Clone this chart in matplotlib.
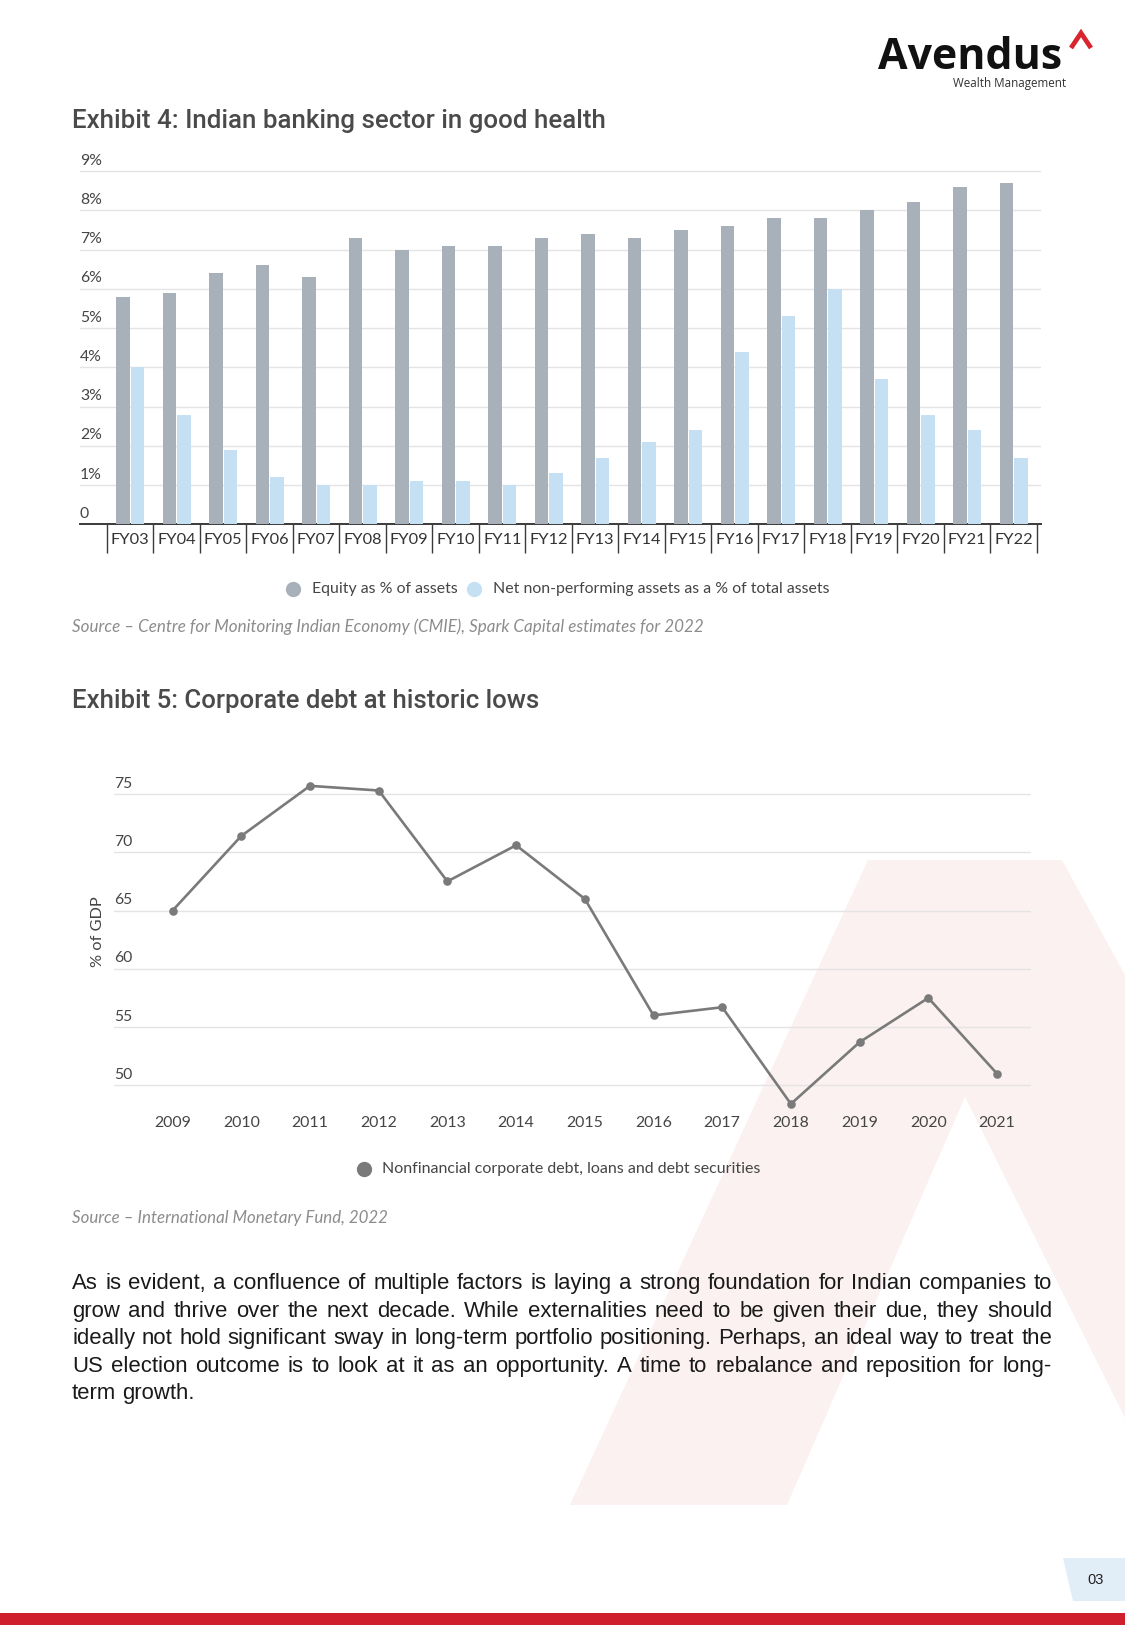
import matplotlib
matplotlib.use("Agg")
import matplotlib.pyplot as plt
import numpy as np
from matplotlib.patches import Polygon
from matplotlib.lines import Line2D
from matplotlib.figure import Figure
from matplotlib.backends.backend_agg import FigureCanvasAgg

# ---------------- data ----------------
categories = ["FY03", "FY04", "FY05", "FY06", "FY07", "FY08", "FY09", "FY10", "FY11", "FY12",
              "FY13", "FY14", "FY15", "FY16", "FY17", "FY18", "FY19", "FY20", "FY21", "FY22"]
equity = [5.8, 5.9, 6.4, 6.6, 6.3, 7.3, 7.0, 7.1, 7.1, 7.3,
          7.4, 7.3, 7.5, 7.6, 7.8, 7.8, 8.0, 8.2, 8.6, 8.7]
npa = [4.0, 2.8, 1.9, 1.2, 1.0, 1.0, 1.1, 1.1, 1.0, 1.3,
       1.7, 2.1, 2.4, 4.4, 5.3, 6.0, 3.7, 2.8, 2.4, 1.7]
bar_yticks = [0, 1, 2, 3, 4, 5, 6, 7, 8, 9]
bar_yticklabels = ["0", "1%", "2%", "3%", "4%", "5%", "6%", "7%", "8%", "9%"]
bar_legend = ["Equity as % of assets", "Net non-performing assets as a % of total assets"]

years = [2009, 2010, 2011, 2012, 2013, 2014, 2015, 2016, 2017, 2018, 2019, 2020, 2021]
debt = [65.0, 71.4, 75.7, 75.3, 67.5, 70.6, 66.0, 56.0, 56.7, 48.4, 53.7, 57.5, 51.0]
line_yticks = [50, 55, 60, 65, 70, 75]
line_legend = "Nonfinancial corporate debt, loans and debt securities"

title4 = "Exhibit 4: Indian banking sector in good health"
title5 = "Exhibit 5: Corporate debt at historic lows"
source4 = "Source \u2013 Centre for Monitoring Indian Economy (CMIE), Spark Capital estimates for 2022"
source5 = "Source \u2013 International Monetary Fund, 2022"
para_lines = [
    "As is evident, a confluence of multiple factors is laying a strong foundation for Indian companies to",
    "grow and thrive over the next decade. While externalities need to be given their due, they should",
    "ideally not hold significant sway in long-term portfolio positioning. Perhaps, an ideal way to treat the",
    "US election outcome is to look at it as an opportunity. A time to rebalance and reposition for long-",
    "term growth.",
]

# ---------------- style ----------------
C_EQ = "#a8b1ba"
C_NPA = "#c5dff3"
C_LINE = "#7a7a7a"
C_GRID = "#e4e4e4"
C_TXT = "#454545"
C_PINK = "#fbf1f1"
CHART_FONT = ["Lato", "DejaVu Sans"]
TITLE_FONT = ["Roboto", "DejaVu Sans"]
BODY_FONT = ["Liberation Sans", "DejaVu Sans"]

W, H = 1125, 1625
fig = plt.figure(figsize=(W / 100, H / 100), dpi=100)
fig.patch.set_facecolor("white")


def fx(x):
    return x / W


def fy(y):
    return 1 - y / H


renderer = fig.canvas.get_renderer()


def width_of(t):
    return t.get_window_extent(renderer).width


def fit(t, target_w):
    t.set_fontsize(t.get_fontsize() * target_w / width_of(t))
    return t


# ---------------- background decorations ----------------
wm = Polygon([(fx(570), fy(1505)), (fx(868), fy(860)), (fx(1062), fy(860)), (fx(1125), fy(975)),
              (fx(1125), fy(1418)), (fx(965), fy(1097)), (fx(787), fy(1505))],
             closed=True, transform=fig.transFigure, facecolor=C_PINK, edgecolor="none", zorder=-1)
fig.patches.append(wm)

fig.patches.append(Polygon([(0, fy(1613)), (1, fy(1613)), (1, 0), (0, 0)], closed=True,
                           transform=fig.transFigure, facecolor="#cf1f2d", edgecolor="none", zorder=1))
fig.patches.append(Polygon([(fx(1063), fy(1558)), (1, fy(1558)), (1, fy(1601)), (fx(1073), fy(1601))],
                           closed=True, transform=fig.transFigure, facecolor="#e1edf7",
                           edgecolor="none", zorder=1))
fig.text(fx(1096), fy(1580), "03", ha="center", va="center", fontsize=10.5,
         family=BODY_FONT, color="#222222")

# logo
t = fig.text(fx(878), fy(69), "Avendus", ha="left", va="baseline", fontweight="bold",
             family=["Open Sans", "DejaVu Sans"], color="#111111", fontsize=30)
fit(t, 184)
fig.lines.append(Line2D([fx(1071), fx(1081), fx(1091)], [fy(48), fy(33), fy(48)],
                        transform=fig.transFigure, color="#d7262e", lw=3.4,
                        solid_joinstyle="miter", solid_capstyle="butt"))
t = fig.text(fx(953), fy(83), "Wealth Management", ha="left", va="center",
             family=["Open Sans", "DejaVu Sans"], color="#333333", fontsize=8)
fit(t, 114)

# ---------------- titles & sources ----------------
t = fig.text(fx(72), fy(121), title4, ha="left", va="center", family=TITLE_FONT,
             fontweight="medium", color="#4a4a4a", fontsize=17)
fit(t, 533)
t = fig.text(fx(72), fy(701), title5, ha="left", va="center", family=TITLE_FONT,
             fontweight="medium", color="#4a4a4a", fontsize=17)
fit(t, 468)
t = fig.text(fx(72), fy(627), source4, ha="left", va="center", family=CHART_FONT,
             style="italic", color="#8c8c8c", fontsize=11)
fit(t, 629)
t = fig.text(fx(72), fy(1218), source5, ha="left", va="center", family=CHART_FONT,
             style="italic", color="#8c8c8c", fontsize=11)
fit(t, 316)

# ---------------- Exhibit 4: bar chart ----------------
px_per_unit = (524.5 - 171.0) / 9.0
ytop = 9.2
ax_top_px = 524.5 - ytop * px_per_unit
ax1 = fig.add_axes([fx(80), fy(524.5), (1041 - 80) / W, (524.5 - ax_top_px) / H])
ax1.set_facecolor("none")
ax1.set_xlim(-1.08, 19.586)
ax1.set_ylim(0, ytop)
x = np.arange(len(categories))
bw = 0.29
ax1.bar(x - 0.16, equity, width=bw, color=C_EQ, zorder=3)
ax1.bar(x + 0.16, npa, width=bw, color=C_NPA, zorder=3)
for v in bar_yticks[1:]:
    ax1.axhline(v, color=C_GRID, lw=1.0, zorder=1)
for v, lab in zip(bar_yticks, bar_yticklabels):
    ax1.annotate(lab, xy=(0, v), xycoords=("axes fraction", "data"), xytext=(0, 2.5),
                 textcoords="offset points", ha="left", va="bottom", fontsize=11.3,
                 family=CHART_FONT, color=C_TXT)
for s in ["top", "right", "left"]:
    ax1.spines[s].set_visible(False)
ax1.spines["bottom"].set_color("#3a3a3a")
ax1.spines["bottom"].set_linewidth(1.4)
ax1.set_xticks([])
ax1.set_yticks([])
sep_depth = (553 - 524.5) / px_per_unit
ax1.vlines(np.arange(len(categories) + 1) - 0.5, -sep_depth, 0, colors="#3a3a3a",
           lw=1.0, clip_on=False)
for i, lab in enumerate(categories):
    ax1.annotate(lab, xy=(i, 0), xycoords="data", xytext=(0, -15.5 * 0.72),
                 textcoords="offset points", ha="center", va="center", fontsize=11.8,
                 family=CHART_FONT, color="#333333", annotation_clip=False)

for (cx, tx, tw, col, lab) in [(293, 312, 145, C_EQ, bar_legend[0]),
                               (474.5, 493, 335, C_NPA, bar_legend[1])]:
    fig.lines.append(Line2D([fx(cx)], [fy(589)], transform=fig.transFigure, marker="o",
                            markersize=11, color=col, markeredgewidth=0, linestyle="none"))
    t = fig.text(fx(tx), fy(589), lab, ha="left", va="center", family=CHART_FONT,
                 color=C_TXT, fontsize=11)
    fit(t, tw)

# ---------------- Exhibit 5: line chart ----------------
lpx = (1085.3 - 794.0) / 25.0
ylo, yhi = 46.5, 77.5
top_px = 794.0 - (yhi - 75) * lpx
bot_px = 1085.3 + (50 - ylo) * lpx
ax2 = fig.add_axes([fx(114), fy(bot_px), (1031 - 114) / W, (bot_px - top_px) / H])
ax2.set_facecolor("none")
xl = 2009 - (172.6 - 114) / 68.7
xr = 2009 + (1031 - 172.6) / 68.7
ax2.set_xlim(xl, xr)
ax2.set_ylim(ylo, yhi)
for v in line_yticks:
    ax2.axhline(v, color=C_GRID, lw=1.0, zorder=1)
    ax2.annotate(str(v), xy=(0, v), xycoords=("axes fraction", "data"), xytext=(0, 2.5),
                 textcoords="offset points", ha="left", va="bottom", fontsize=11.3,
                 family=CHART_FONT, color=C_TXT)
ax2.plot(years, debt, color=C_LINE, lw=1.9, marker="o", markersize=6.2,
         markeredgewidth=0, zorder=3)
for yv in years:
    ax2.annotate(str(yv), xy=(yv, 50), xycoords="data", xytext=(0, -(1123 - 1085.3) * 0.72),
                 textcoords="offset points", ha="center", va="center", fontsize=11.4,
                 family=CHART_FONT, color=C_TXT, annotation_clip=False)
for s in ax2.spines.values():
    s.set_visible(False)
ax2.set_xticks([])
ax2.set_yticks([])
fig.text(fx(98), fy(932), "% of GDP", rotation=90, ha="center", va="center",
         family=CHART_FONT, color=C_TXT, fontsize=11.8)

fig.lines.append(Line2D([fx(363.6)], [fy(1168.6)], transform=fig.transFigure, marker="o",
                        markersize=11, color=C_LINE, markeredgewidth=0, linestyle="none"))
t = fig.text(fx(382), fy(1168.6), line_legend, ha="left", va="center", family=CHART_FONT,
             color=C_TXT, fontsize=11)
fit(t, 378)

# ---------------- justified paragraph (word by word) ----------------
x0, x1 = 72, 1052
tmp = fig.text(0, 0, para_lines[2], fontsize=14, family=BODY_FONT)
fs = 14 * 976 / width_of(tmp)
tmp.remove()
sp = fig.text(0, 0, "a a", fontsize=fs, family=BODY_FONT)
sp2 = fig.text(0, 0, "aa", fontsize=fs, family=BODY_FONT)
space_w = width_of(sp) - width_of(sp2)
sp.remove()
sp2.remove()

# scratch canvas to measure per-word vertical rendering offsets (keeps baselines aligned)
scratch = Figure(figsize=(8, 0.8), dpi=100)
scanvas = FigureCanvasAgg(scratch)


def ink_top(s):
    scratch.texts.clear()
    scratch.text(0.01, 0.5, s, fontsize=fs, family=BODY_FONT, color="black",
                 ha="left", va="baseline")
    scanvas.draw()
    arr = np.asarray(scanvas.buffer_rgba())[:, :, 0]
    rows = np.where((arr < 200).any(axis=1))[0]
    return rows.min() if len(rows) else None


DESC = set("gjpqy,;")


def correction(word):
    if not any(c in DESC for c in word):
        return 0
    stripped = "".join(c for c in word if c not in DESC)
    if not stripped:
        return 0
    a = ink_top(word)
    b = ink_top(stripped)
    if a is None or b is None:
        return 0
    return int(b - a)


baselines = [1289, 1317, 1344, 1372, 1399]
for li, (line, yb) in enumerate(zip(para_lines, baselines)):
    words = line.split(" ")
    texts = [fig.text(0, fy(yb + correction(w)), w, fontsize=fs, family=BODY_FONT,
                      color="#1a1a1a", ha="left", va="baseline") for w in words]
    widths = [width_of(tt) for tt in texts]
    if li == len(para_lines) - 1:
        gap = space_w
    else:
        gap = (x1 - x0 - sum(widths)) / (len(words) - 1)
    xpos = x0
    for tt, w in zip(texts, widths):
        tt.set_x(fx(xpos))
        xpos += w + gap

fig.savefig("out.png", dpi=100, facecolor="white")
